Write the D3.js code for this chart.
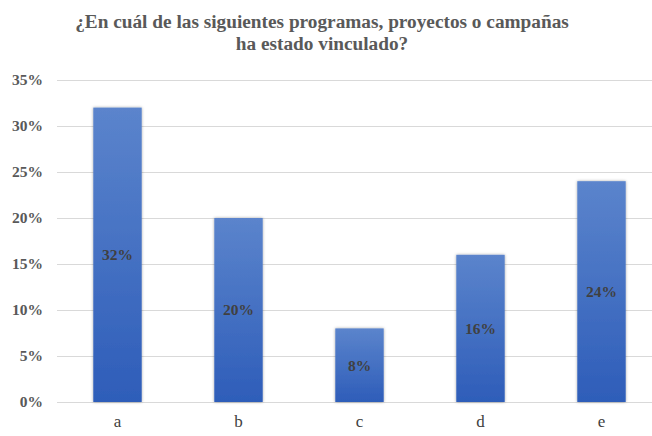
<!DOCTYPE html>
<html>
<head>
<meta charset="utf-8">
<script src="https://cdn.jsdelivr.net/npm/d3@7"></script>
<style>
  body { margin: 0; background: #fff; }
  text { font-family: "Liberation Serif", serif; }
</style>
</head>
<body>
<svg id="chart" width="652" height="436"></svg>
<script>
const categories = ["a", "b", "c", "d", "e"];
const values = [0.32, 0.20, 0.08, 0.16, 0.24];
const yTicks = [0, 0.05, 0.10, 0.15, 0.20, 0.25, 0.30, 0.35];
const titleLines = ["¿En cuál de las siguientes programas, proyectos o campañas", "ha estado vinculado?"];

const svg = d3.select("#chart");
const plotLeft = 57, plotRight = 662, plotTop = 80, plotBottom = 402;

const x = d3.scaleBand()
  .domain(categories)
  .range([plotLeft, plotRight])
  .paddingInner(0.6)
  .paddingOuter(0.3);

const y = d3.scaleLinear()
  .domain([0, 0.35])
  .range([plotBottom, plotTop]);

// gradient + shadow for the bars
const defs = svg.append("defs");
const grad = defs.append("linearGradient")
  .attr("id", "barGrad")
  .attr("x1", 0).attr("y1", 0).attr("x2", 0).attr("y2", 1);
grad.append("stop").attr("offset", "0%").attr("stop-color", "#5b84cc");
grad.append("stop").attr("offset", "100%").attr("stop-color", "#2e5db9");

const shadow = defs.append("filter").attr("id", "shadow")
  .attr("x", "-20%").attr("y", "-5%").attr("width", "140%").attr("height", "110%");
shadow.append("feDropShadow")
  .attr("dx", 0).attr("dy", 0).attr("stdDeviation", 1.5)
  .attr("flood-color", "#000").attr("flood-opacity", 0.35);

// title
svg.append("g").selectAll("text")
  .data(titleLines)
  .enter().append("text")
  .attr("x", 322)
  .attr("y", (d, i) => 28 + i * 22)
  .attr("text-anchor", "middle")
  .attr("font-size", 19.3)
  .attr("font-weight", "bold")
  .attr("fill", "#595959")
  .text(d => d);

// grid lines
svg.append("g")
  .selectAll("line")
  .data(yTicks)
  .enter().append("line")
  .attr("x1", plotLeft)
  .attr("x2", 652)
  .attr("y1", d => Math.round(y(d)) + 0.5)
  .attr("y2", d => Math.round(y(d)) + 0.5)
  .attr("stroke", "#d9d9d9")
  .attr("stroke-width", 1);

// y axis labels
const yAxis = d3.axisLeft(y)
  .tickValues(yTicks)
  .tickFormat(d3.format(".0%"))
  .tickSize(0)
  .tickPadding(0);

const yg = svg.append("g")
  .attr("transform", `translate(${plotLeft - 14},0)`)
  .call(yAxis);
yg.select(".domain").remove();
yg.selectAll("text")
  .attr("font-size", 15.5)
  .attr("font-weight", "bold")
  .attr("fill", "#595959")
  .attr("font-family", "Liberation Serif, serif");

// bars
svg.append("g")
  .selectAll("rect")
  .data(values)
  .enter().append("rect")
  .attr("x", (d, i) => x(categories[i]))
  .attr("y", d => y(d))
  .attr("width", x.bandwidth())
  .attr("height", d => plotBottom - y(d))
  .attr("fill", "url(#barGrad)")
  .attr("filter", "url(#shadow)");

// value labels
svg.append("g")
  .selectAll("text")
  .data(values)
  .enter().append("text")
  .attr("x", (d, i) => x(categories[i]) + x.bandwidth() / 2)
  .attr("y", d => (y(d) + plotBottom) / 2)
  .attr("dy", "0.35em")
  .attr("text-anchor", "middle")
  .attr("font-size", 15.5)
  .attr("font-weight", "bold")
  .attr("fill", "#404040")
  .text(d => d3.format(".0%")(d));

// x axis labels
const xAxis = d3.axisBottom(x).tickSize(0).tickPadding(0);
const xg = svg.append("g")
  .attr("transform", `translate(0,${plotBottom + 13})`)
  .call(xAxis);
xg.select(".domain").remove();
xg.selectAll("text")
  .attr("font-size", 17)
  .attr("fill", "#404040")
  .attr("font-family", "Liberation Serif, serif");
</script>
</body>
</html>
